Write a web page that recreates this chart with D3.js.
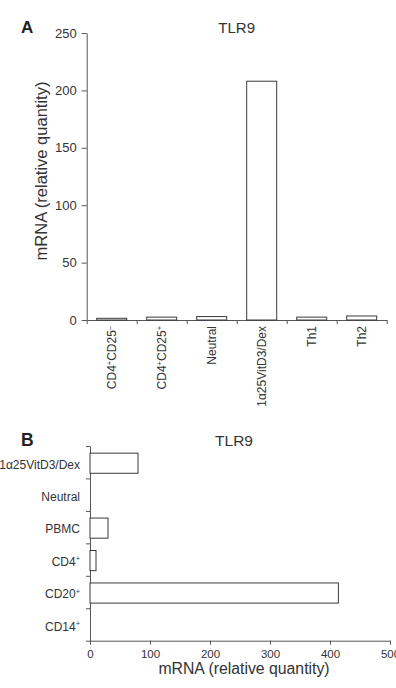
<!DOCTYPE html>
<html><head><meta charset="utf-8">
<script src="https://cdn.jsdelivr.net/npm/d3@7"></script>
<style>
html,body{margin:0;padding:0;background:#fff;}
svg{display:block;font-family:"Liberation Sans",Arial,Helvetica,sans-serif;}
</style></head>
<body>
<svg id="chart" width="396" height="688"></svg>
<script>
// ---- Panel A data ----
const catsA = ["CD4+CD25-", "CD4+CD25+", "Neutral", "1α25VitD3/Dex", "Th1", "Th2"];
const valuesA = [1.5, 2.5, 3, 208, 2.5, 3.5];
const ticksA = [0, 50, 100, 150, 200, 250];
// ---- Panel B data ----
const catsB = ["1α25VitD3/Dex", "Neutral", "PBMC", "CD4+", "CD20+", "CD14+"];
const valuesB = [80, 0, 30, 10, 414, 0];
const ticksB = [0, 100, 200, 300, 400, 500];
const titleA = "TLR9", titleB = "TLR9";
const axisLabel = "mRNA (relative quantity)";

const svg = d3.select("#chart");
const textCol = "#333", lineCol = "#555";

// Render label with superscript +/- signs (no empty tspans)
function richLabel(sel, str, fs) {
  const parts = str.split(/([+\-])/).filter(s => s.length);
  let pending = 0;
  parts.forEach(p => {
    if (p === "+" || p === "-") {
      sel.append("tspan").attr("font-size", fs * 0.62).attr("dy", -fs * 0.38 + pending)
        .text(p === "+" ? "+" : "\u2013");
      pending = fs * 0.38;
    } else {
      sel.append("tspan").attr("font-size", fs).attr("dy", pending).text(p);
      pending = 0;
    }
  });
}

// ================= Panel A =================
const xA = d3.scaleBand().domain(catsA).range([86.7, 386.7]).paddingInner(0.4).paddingOuter(0.2);
const xAb = d3.scaleLinear().domain([0, catsA.length]).range([86.7, 386.7]);
const yA = d3.scaleLinear().domain([0, 250]).range([320, 33]);

const gA = svg.append("g");
gA.append("g").attr("transform", "translate(86.7,0)")
  .call(d3.axisLeft(yA).tickValues(ticksA).tickSize(5).tickSizeOuter(0).tickPadding(5))
  .call(g => g.attr("font-size", 13).attr("font-family", null))
  .call(g => g.selectAll("text").attr("font-size", 13).attr("fill", textCol))
  .call(g => g.selectAll("line,path").attr("stroke", lineCol));
gA.append("g").attr("transform", "translate(0,320)")
  .call(d3.axisBottom(xAb).tickValues(d3.range(catsA.length + 1)).tickSize(4).tickSizeOuter(0).tickFormat(""))
  .call(g => g.attr("font-size", 12).attr("font-family", null))
  .call(g => g.selectAll("text").remove())
  .call(g => g.selectAll("line,path").attr("stroke", lineCol));

gA.selectAll("rect.bar").data(catsA).join("rect").attr("class", "bar")
  .attr("x", d => xA(d)).attr("width", xA.bandwidth())
  .attr("y", (d, i) => yA(valuesA[i])).attr("height", (d, i) => yA(0) - yA(valuesA[i]))
  .attr("fill", "#fff").attr("stroke", "#3a3a3a").attr("stroke-width", 1);

catsA.forEach(c => {
  const t = gA.append("text")
    .attr("transform", `translate(${xA(c) + xA.bandwidth() / 2 + 4.5},326) rotate(-90)`)
    .attr("text-anchor", "end").attr("font-size", 12).attr("fill", textCol);
  richLabel(t, c, 12);
});

gA.append("text").attr("transform", "translate(41,171) rotate(-90)")
  .attr("text-anchor", "middle").attr("dy", "0.35em")
  .attr("font-size", 16.5).attr("fill", textCol).text(axisLabel);
gA.append("text").attr("x", 236.7).attr("y", 33).attr("text-anchor", "middle")
  .attr("font-size", 15).attr("fill", textCol).text(titleA);
gA.append("text").attr("x", 21).attr("y", 33).attr("font-size", 17)
  .attr("font-weight", "bold").attr("fill", "#222").text("A");

// ================= Panel B =================
const yB = d3.scaleBand().domain(catsB).range([446, 640.7]).paddingInner(0.38).paddingOuter(0.19);
const yBb = d3.scaleLinear().domain([0, catsB.length]).range([446, 640.7]);
const xB = d3.scaleLinear().domain([0, 500]).range([90, 390]);

const gB = svg.append("g");
gB.append("g").attr("transform", "translate(90,0)")
  .call(d3.axisLeft(yBb).tickValues(d3.range(catsB.length + 1)).tickSize(4).tickSizeOuter(0).tickFormat(""))
  .call(g => g.attr("font-size", 12).attr("font-family", null))
  .call(g => g.selectAll("text").remove())
  .call(g => g.selectAll("line,path").attr("stroke", lineCol));
gB.append("g").attr("transform", "translate(0,640.7)")
  .call(d3.axisBottom(xB).tickValues(ticksB).tickSize(4).tickSizeOuter(0).tickPadding(5))
  .call(g => g.attr("font-size", 11.5).attr("font-family", null))
  .call(g => g.selectAll("text").attr("font-size", 11.5).attr("fill", textCol))
  .call(g => g.selectAll("line,path").attr("stroke", lineCol));

gB.selectAll("rect.bar").data(catsB.filter((c, i) => valuesB[i] > 0)).join("rect").attr("class", "bar")
  .attr("y", d => yB(d) + 1).attr("height", yB.bandwidth())
  .attr("x", xB(0)).attr("width", d => xB(valuesB[catsB.indexOf(d)]) - xB(0))
  .attr("fill", "#fff").attr("stroke", "#3a3a3a").attr("stroke-width", 1);

catsB.forEach(c => {
  const t = gB.append("text")
    .attr("x", 80).attr("y", yB(c) + yB.bandwidth() / 2 + 2 + 4.3)
    .attr("text-anchor", "end").attr("font-size", 12).attr("fill", textCol);
  richLabel(t, c, 12);
});

gB.append("text").attr("x", 244).attr("y", 674).attr("text-anchor", "middle")
  .attr("font-size", 15.8).attr("fill", textCol).text(axisLabel);
gB.append("text").attr("x", 234).attr("y", 446).attr("text-anchor", "middle")
  .attr("font-size", 15.5).attr("fill", textCol).text(titleB);
gB.append("text").attr("x", 21).attr("y", 446).attr("font-size", 17.5)
  .attr("font-weight", "bold").attr("fill", "#222").text("B");
</script>
</body></html>
